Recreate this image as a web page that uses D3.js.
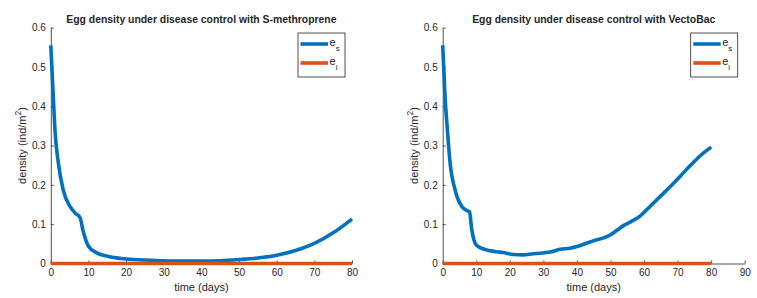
<!DOCTYPE html>
<html>
<head>
<meta charset="utf-8">
<script src="https://cdn.jsdelivr.net/npm/d3@7"></script>
<style>
  body { margin: 0; background: #fff; }
  text { font-family: "Liberation Sans", Arial, sans-serif; fill: #262626; }
  .axis path, .axis line { stroke: #262626; stroke-width: 0.8; }
  .axis text { font-size: 10px; }
</style>
</head>
<body>
<div id="chart"></div>
<script>
// S-methroprene run
const tMeth = [0, 0.66, 1.1, 2.0, 3.3, 5.1, 6.5, 7.75, 8.6, 10, 12.2, 14.8, 19.3, 25, 30, 35, 40, 45, 50, 55, 60, 65, 70, 75, 80];
const esMeth = [0.555, 0.424, 0.34, 0.256, 0.187, 0.145, 0.128, 0.117, 0.082, 0.044, 0.027, 0.019, 0.012, 0.009, 0.007, 0.006, 0.006, 0.007, 0.010, 0.014, 0.021, 0.033, 0.051, 0.078, 0.113];

// VectoBac run
const tVecto = [0, 0.7, 1.4, 2.2, 3.7, 5.7, 7.6, 8, 8.6, 10, 12.5, 16, 18, 21, 24, 27, 29, 32, 35, 38, 40, 43, 45, 48, 50, 52, 54, 56, 59, 62, 65, 68, 71, 74, 77, 80];
const esVecto = [0.555, 0.424, 0.34, 0.256, 0.187, 0.145, 0.133, 0.131, 0.09, 0.047, 0.036, 0.030, 0.028, 0.023, 0.022, 0.025, 0.026, 0.029, 0.036, 0.039, 0.043, 0.052, 0.058, 0.065, 0.073, 0.085, 0.097, 0.106, 0.122, 0.147, 0.172, 0.197, 0.224, 0.251, 0.276, 0.296];

// infected eggs stay at zero
const tEi = [0, 20, 40, 60, 80];
const ei = [0, 0, 0, 0, 0];

const yTicks = [0, 0.1, 0.2, 0.3, 0.4, 0.5, 0.6];
const xTicksMeth = [0, 10, 20, 30, 40, 50, 60, 70, 80];
const xTicksVecto = [0, 10, 20, 30, 40, 50, 60, 70, 80, 90];

const blue = '#0072BD', orange = '#D95319';

const svg = d3.select('#chart').append('svg')
  .attr('width', 757).attr('height', 298);

const panels = [
  { title: 'Egg density under disease control with S-methroprene', t: tMeth, es: esMeth,
    xMax: 80, xTicks: xTicksMeth, left: 50.8, right: 352 },
  { title: 'Egg density under disease control with VectoBac', t: tVecto, es: esVecto,
    xMax: 90, xTicks: xTicksVecto, left: 442.7, right: 744.7 }
];

const plotTop = 27.6, plotBottom = 263.5;

panels.forEach(p => {
  const x = d3.scaleLinear().domain([0, p.xMax]).range([p.left, p.right]);
  const y = d3.scaleLinear().domain([0, 0.6]).range([plotBottom, plotTop]);
  const g = svg.append('g');

  g.append('g').attr('class', 'axis')
    .attr('transform', `translate(0,${plotBottom})`)
    .call(d3.axisBottom(x).tickValues(p.xTicks).tickFormat(d3.format('d'))
      .tickSizeInner(-3).tickSizeOuter(0).tickPadding(5));

  g.append('g').attr('class', 'axis')
    .attr('transform', `translate(${p.left},0)`)
    .call(d3.axisLeft(y).tickValues(yTicks).tickFormat(d => d === 0 ? '0' : d3.format('.1f')(d))
      .tickSizeInner(-3).tickSizeOuter(0).tickPadding(5));

  const line = d3.line().x(d => x(d[0])).y(d => y(d[1])).curve(d3.curveMonotoneX);

  g.append('path')
    .datum(p.t.map((t, i) => [t, p.es[i]]))
    .attr('d', line).attr('fill', 'none')
    .attr('stroke', blue).attr('stroke-width', 3.6).attr('stroke-linejoin', 'round');

  g.append('path')
    .datum(tEi.map((t, i) => [t, ei[i]]))
    .attr('d', line).attr('fill', 'none')
    .attr('stroke', orange).attr('stroke-width', 3.6);

  const cx = (p.left + p.right) / 2;
  g.append('text').attr('x', cx).attr('y', 23)
    .attr('text-anchor', 'middle').style('font-size', '10.4px').style('font-weight', 'bold')
    .text(p.title);

  g.append('text').attr('x', cx).attr('y', 291)
    .attr('text-anchor', 'middle').style('font-size', '11px')
    .text('time (days)');

  const yl = g.append('text')
    .attr('transform', `translate(${p.left - 25},${(plotTop + plotBottom) / 2}) rotate(-90)`)
    .attr('text-anchor', 'middle').style('font-size', '11px');
  yl.append('tspan').text('density (ind/m');
  yl.append('tspan').attr('dy', -4.5).style('font-size', '8.5px').text('2');
  yl.append('tspan').attr('dy', 4.5).text(')');

  // legend
  const lx = p.right - 54, ly = 33;
  const lg = g.append('g').attr('transform', `translate(${lx},${ly})`);
  lg.append('rect').attr('width', 47).attr('height', 44)
    .attr('fill', '#fff').attr('stroke', '#262626').attr('stroke-width', 0.8);
  [['s', blue, 11], ['i', orange, 30]].forEach(([sub, c, yy]) => {
    lg.append('line').attr('x1', 2.5).attr('x2', 30).attr('y1', yy).attr('y2', yy)
      .attr('stroke', c).attr('stroke-width', 3.6);
    const tx = lg.append('text').attr('x', 31.5).attr('y', yy + 2).style('font-size', '11px');
    tx.append('tspan').text('e');
    tx.append('tspan').attr('dy', 5).style('font-size', '8px').text(sub);
  });
});
</script>
</body>
</html>
